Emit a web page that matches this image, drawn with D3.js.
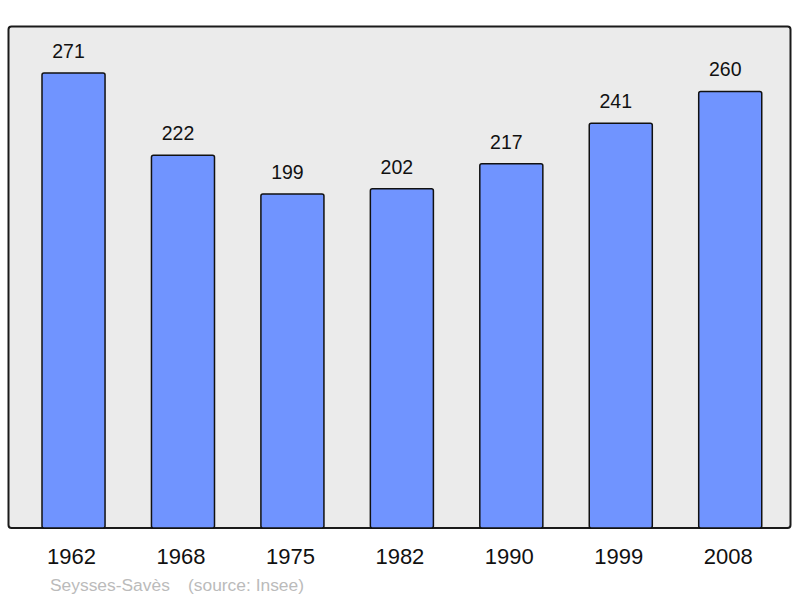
<!DOCTYPE html>
<html><head><meta charset="utf-8">
<script src="https://cdn.jsdelivr.net/npm/d3@7"></script>
<style>body{margin:0;background:#fff}svg{display:block}text{font-family:"Liberation Sans",Arial,sans-serif}</style>
</head><body>
<script>
const years = ["1962","1968","1975","1982","1990","1999","2008"];
const population = [271,222,199,202,217,241,260];
const footerName = "Seysses-Savès";
const footerSource = "(source: Insee)";

const W = 800, H = 598;
const svg = d3.select("body").append("svg").attr("width", W).attr("height", H);
const panel = {x0: 8.5, y0: 26.5, x1: 790.5, y1: 528};

svg.append("rect").attr("x", panel.x0).attr("y", panel.y0)
  .attr("width", panel.x1 - panel.x0).attr("height", panel.y1 - panel.y0)
  .attr("rx", 3).attr("fill", "#ebebeb").attr("stroke", "#1a1a1a").attr("stroke-width", 2);

const x = d3.scaleBand().domain(years).range([18.8, 784.95]).paddingInner(0.424).paddingOuter(0.212);
const y = d3.scaleLinear().domain([0, 298.4]).range([panel.y1, panel.y0 + 0.5]);

svg.selectAll("rect.bar").data(years).enter().append("rect").attr("class","bar")
  .attr("x", d => x(d)).attr("width", x.bandwidth())
  .attr("y", (d,i) => y(population[i])).attr("height", (d,i) => y(0) - y(population[i]))
  .attr("rx", 2).attr("fill", "#7094ff").attr("stroke", "#111").attr("stroke-width", 1.5);

svg.selectAll("text.val").data(years).enter().append("text").attr("class","val")
  .attr("x", d => x(d) + x.bandwidth()/2 - 5).attr("y", (d,i) => y(population[i]) - 15)
  .attr("text-anchor","middle").attr("font-size", 19.5).attr("fill","#111")
  .text((d,i) => population[i]);

const xAxis = d3.axisBottom(x).tickSize(0).tickPadding(0);
const ax = svg.append("g").attr("transform", `translate(-2,${panel.y1})`).call(xAxis);
ax.select(".domain").remove();
ax.selectAll("text").attr("font-size", 22).attr("fill","#111").attr("dy", null).attr("y", 36)
  .style("font-family","'Liberation Sans',Arial,sans-serif");

svg.append("text").attr("x", 50).attr("y", 590.5).attr("font-size", 17.4).attr("fill","#bbb")
  .text(footerName);
svg.append("text").attr("x", 188).attr("y", 590.5).attr("font-size", 17.4).attr("fill","#bbb")
  .text(footerSource);
</script>
</body></html>
